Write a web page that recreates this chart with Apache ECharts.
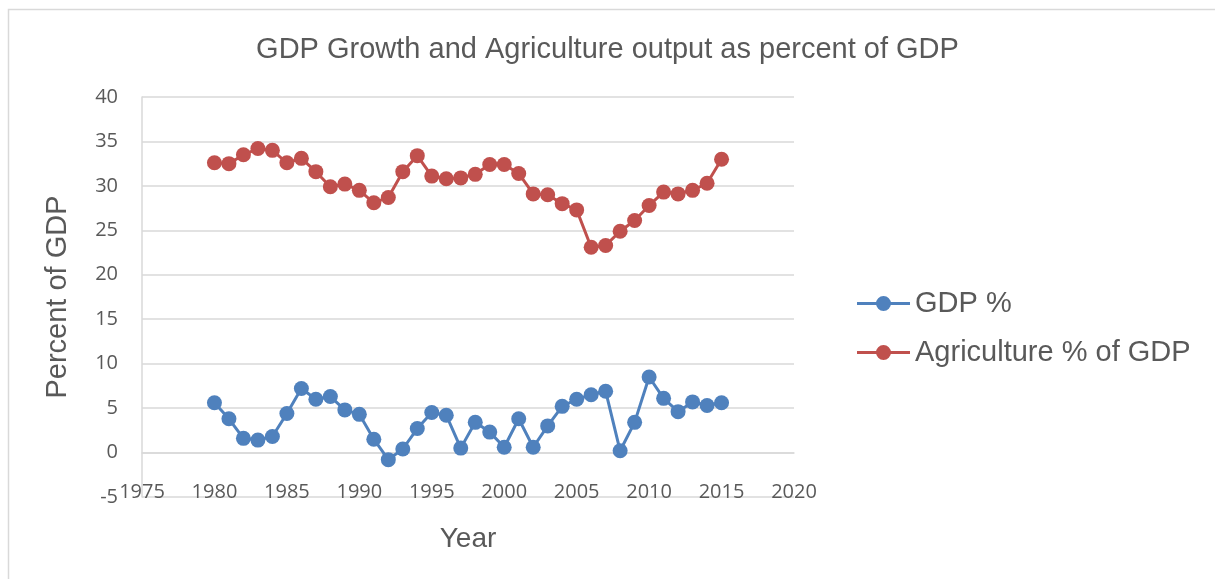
<!DOCTYPE html>
<html>
<head>
<meta charset="utf-8">
<title>GDP Growth and Agriculture output</title>
<script src="https://cdn.jsdelivr.net/npm/echarts@6/dist/echarts.min.js"></script>
<style>
    html, body { margin: 0; padding: 0; background: #fff; }
    #chart { width: 1215px; height: 579px; }
</style>
</head>
<body>
<div id="chart"></div>
<script>
// 年份
var years = [1980, 1981, 1982, 1983, 1984, 1985, 1986, 1987, 1988, 1989,
    1990, 1991, 1992, 1993, 1994, 1995, 1996, 1997, 1998, 1999,
    2000, 2001, 2002, 2003, 2004, 2005, 2006, 2007, 2008, 2009,
    2010, 2011, 2012, 2013, 2014, 2015]

// GDP 增长率
var gdpGrowth = [5.6, 3.8, 1.6, 1.4, 1.8, 4.4, 7.2, 6.0, 6.3, 4.8,
    4.3, 1.5, -0.8, 0.4, 2.7, 4.5, 4.2, 0.5, 3.4, 2.3,
    0.6, 3.8, 0.6, 3.0, 5.2, 6.0, 6.5, 6.9, 0.2, 3.4,
    8.5, 6.1, 4.6, 5.7, 5.3, 5.6]

// 农业占GDP比例
var agriShare = [32.6, 32.5, 33.5, 34.2, 34.0, 32.6, 33.1, 31.6, 29.9, 30.2,
    29.5, 28.1, 28.7, 31.6, 33.4, 31.1, 30.8, 30.9, 31.3, 32.4,
    32.4, 31.4, 29.1, 29.0, 28.0, 27.3, 23.1, 23.3, 24.9, 26.1,
    27.8, 29.3, 29.1, 29.5, 30.3, 33.0]

var seriesNames = ['GDP %', 'Agriculture % of GDP']

function pairs(values) {
    return years.map((y, i) => [y, values[i]])
}

var textColor = '#595959'
var font = 'Liberation Sans'
// 图例图标: 粗线 + 圆点
var legendIcon = 'path://M0,6 h53 v3 h-53 Z M19,7.5 a7.5,7.5 0 1,1 15,0 a7.5,7.5 0 1,1 -15,0 Z'

var myChart = echarts.init(document.getElementById('chart'))

var option = {
    animation: false,
    backgroundColor: '#fff',
    title: {
        text: 'GDP Growth and Agriculture output as percent of GDP',
        left: 'center',
        top: 30,
        textStyle: {
            color: textColor,
            fontFamily: font,
            fontSize: 29,
            fontWeight: 'normal'
        }
    },
    graphic: [{
        type: 'rect',
        shape: { x: 8.5, y: 9.5, width: 1300, height: 700 },
        style: { fill: 'none', stroke: '#d9d9d9', lineWidth: 1.5 },
        silent: true
    }],
    legend: {
        orient: 'vertical',
        left: 852,
        top: 284,
        itemWidth: 53,
        itemHeight: 15,
        itemGap: 20,
        icon: legendIcon,
        data: seriesNames,
        textStyle: {
            color: textColor,
            fontFamily: font,
            fontSize: 29
        }
    },
    grid: {
        left: 142,
        right: 421,
        top: 97,
        bottom: 82
    },
    xAxis: {
        type: 'value',
        min: 1975,
        max: 2020,
        interval: 5,
        name: 'Year',
        nameLocation: 'middle',
        nameGap: 28,
        nameTextStyle: {
            color: textColor,
            fontFamily: font,
            fontSize: 28
        },
        axisLine: { show: true, lineStyle: { color: '#d9d9d9', width: 1.5 } },
        axisTick: { show: false },
        splitLine: { show: false },
        axisLabel: {
            color: textColor,
            fontFamily: 'Open Sans',
            fontSize: 20,
            margin: -15,
            formatter: v => String(v)
        }
    },
    yAxis: {
        type: 'value',
        min: -5,
        max: 40,
        interval: 5,
        name: 'Percent of GDP',
        nameLocation: 'middle',
        nameGap: 70,
        nameTextStyle: {
            color: textColor,
            fontFamily: font,
            fontSize: 29
        },
        axisLine: { show: true, lineStyle: { color: '#d9d9d9', width: 1.5 } },
        axisTick: { show: false },
        splitLine: { show: true, lineStyle: { color: '#d9d9d9', width: 1.5 } },
        axisLabel: {
            color: textColor,
            fontFamily: 'Open Sans',
            fontSize: 20,
            margin: 24
        }
    },
    series: [
        {
            name: seriesNames[0],
            type: 'line',
            data: pairs(gdpGrowth),
            symbol: 'circle',
            symbolSize: 15,
            color: '#4f81bd',
            lineStyle: { width: 3 }
        },
        {
            name: seriesNames[1],
            type: 'line',
            data: pairs(agriShare),
            symbol: 'circle',
            symbolSize: 15,
            color: '#c0504d',
            lineStyle: { width: 3 }
        }
    ]
}

myChart.setOption(option)
</script>
</body>
</html>
